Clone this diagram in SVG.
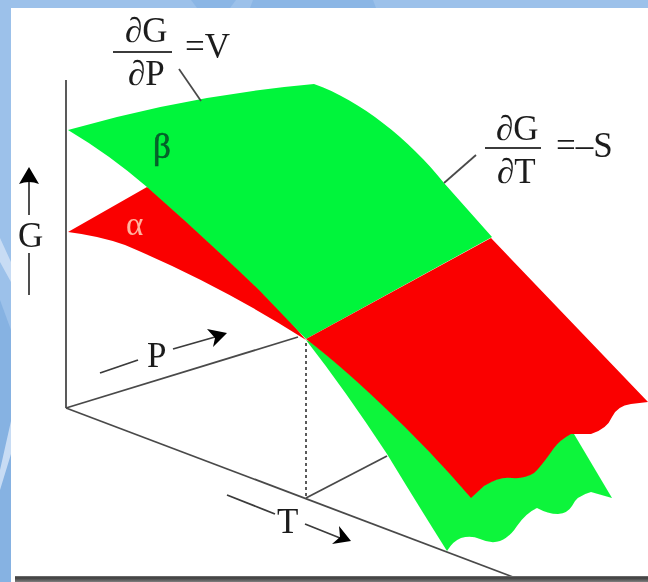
<svg xmlns="http://www.w3.org/2000/svg" width="648" height="582" viewBox="0 0 648 582">
<defs>
<filter id="soft" x="-5%" y="-5%" width="110%" height="110%"><feGaussianBlur stdDeviation="0.6"/></filter>
<linearGradient id="rule" x1="0" y1="0" x2="0" y2="1"><stop offset="0" stop-color="#777"/><stop offset="0.3" stop-color="#3c3c3c"/><stop offset="1" stop-color="#808080"/></linearGradient>
</defs>
<style>
text{font-family:"Liberation Serif","Times New Roman",serif;fill:#1c1c1c;font-size:35px}
.ax{fill:none;stroke:#4a4a4a;stroke-width:1.8}
.lb{fill:none;stroke:#4a4a4a;stroke-width:1.8}
.ar{fill:none;stroke:#3a3a3a;stroke-width:1.8}
</style>
<rect width="648" height="582" fill="#9cc1ea"/>
<path d="M191,0H236L230,8H197Z M253,0H373L376,8H250Z" fill="#8bb6e5"/>
<path d="M0,300L11,330V582H0Z" fill="#86b2e2"/>
<path d="M0,238L11,262V282L0,262Z M0,470L11,421V454L0,490Z" fill="#c8dcf4"/>
<rect x="11" y="8" width="637" height="574" fill="#fff"/>
<g filter="url(#soft)">
<g id="surfaces">
<path id="beta-lower" d="M306,340 Q345,390 387,454 Q418,505 447,551 Q453,541 461,538 Q471,535 480,539 Q491,544 500,541 Q510,537 517,526 Q526,513 537,508 Q548,514 558,514 Q568,513 572,506 Q576,496 591,492 L612,498 L574,434 Z" fill="#0cf53a"/>
<path id="alpha-low" d="M68,232 Q100,236 125,245 Q220,285 306,340 L200,215 L147,187 Z" fill="#fa0505"/>
<path id="beta-upper" d="M68,130 Q190,95 314,84 C360,100 410,140 444,183 L492,237 L306,339 L260,291 Q205,238 147,187 Q110,155 68,130 Z" fill="#05f53a"/>
<path id="alpha-upper" d="M306,339 L491,238 L648,402 L631,404 Q617,406 612,417 Q607,429 591,434 L571,434 Q560,440 554,448 Q540,468 534,473 Q525,479 512,478 Q500,476 484,486 L471,498 Q430,450 381,404 Q340,365 306,339 Z" fill="#fa0505"/>
</g>
<g id="connectors">
<path class="ax" d="M66,80V408"/>
<path class="ax" d="M66,408L298,337"/>
<path class="ax" d="M66,408L513,577"/>
<path class="ax" d="M306,343V498" stroke-dasharray="3 3"/>
<path class="ax" d="M306,498L387,456"/>
<path class="lb" d="M179,69L201,101"/>
<path class="lb" d="M476,155L444,183"/>
<path class="ar" d="M29,215V180"/>
<path d="M29,167L39,184Q29,180 19,184Z" fill="#000"/>
<path class="ar" d="M29,253V295"/>
<path class="ar" d="M100,373L138,360"/>
<path class="ar" d="M173,349L215,337"/>
<path d="M207,329L227,333L213,347L215,338Z" fill="#000"/>
<path class="ar" d="M227,495L275,514"/>
<path class="ar" d="M305,524L340,538"/>
<path d="M339,526L351,541L332,544L340,537Z" fill="#000"/>
</g>
<g id="labels">
<text x="125" y="42">∂G</text>
<path class="ar" d="M113,52H172"/>
<text x="128" y="85">∂P</text>
<text x="185" y="58">=V</text>
<text x="496" y="140">∂G</text>
<path class="ar" d="M485,148H541"/>
<text x="497" y="183">∂T</text>
<text x="556" y="157">=–S</text>
<text x="18" y="247">G</text>
<text x="147" y="367">P</text>
<text x="277" y="533">T</text>
<text x="153" y="158" style="fill:#07602a;stroke:#07602a;stroke-width:0.6">β</text>
<text x="126" y="235" style="fill:#ffb4a0;font-size:33px">α</text>
</g>
</g>
<rect id="bottom-rule" x="15" y="576" width="633" height="6" fill="url(#rule)"/>
</svg>
